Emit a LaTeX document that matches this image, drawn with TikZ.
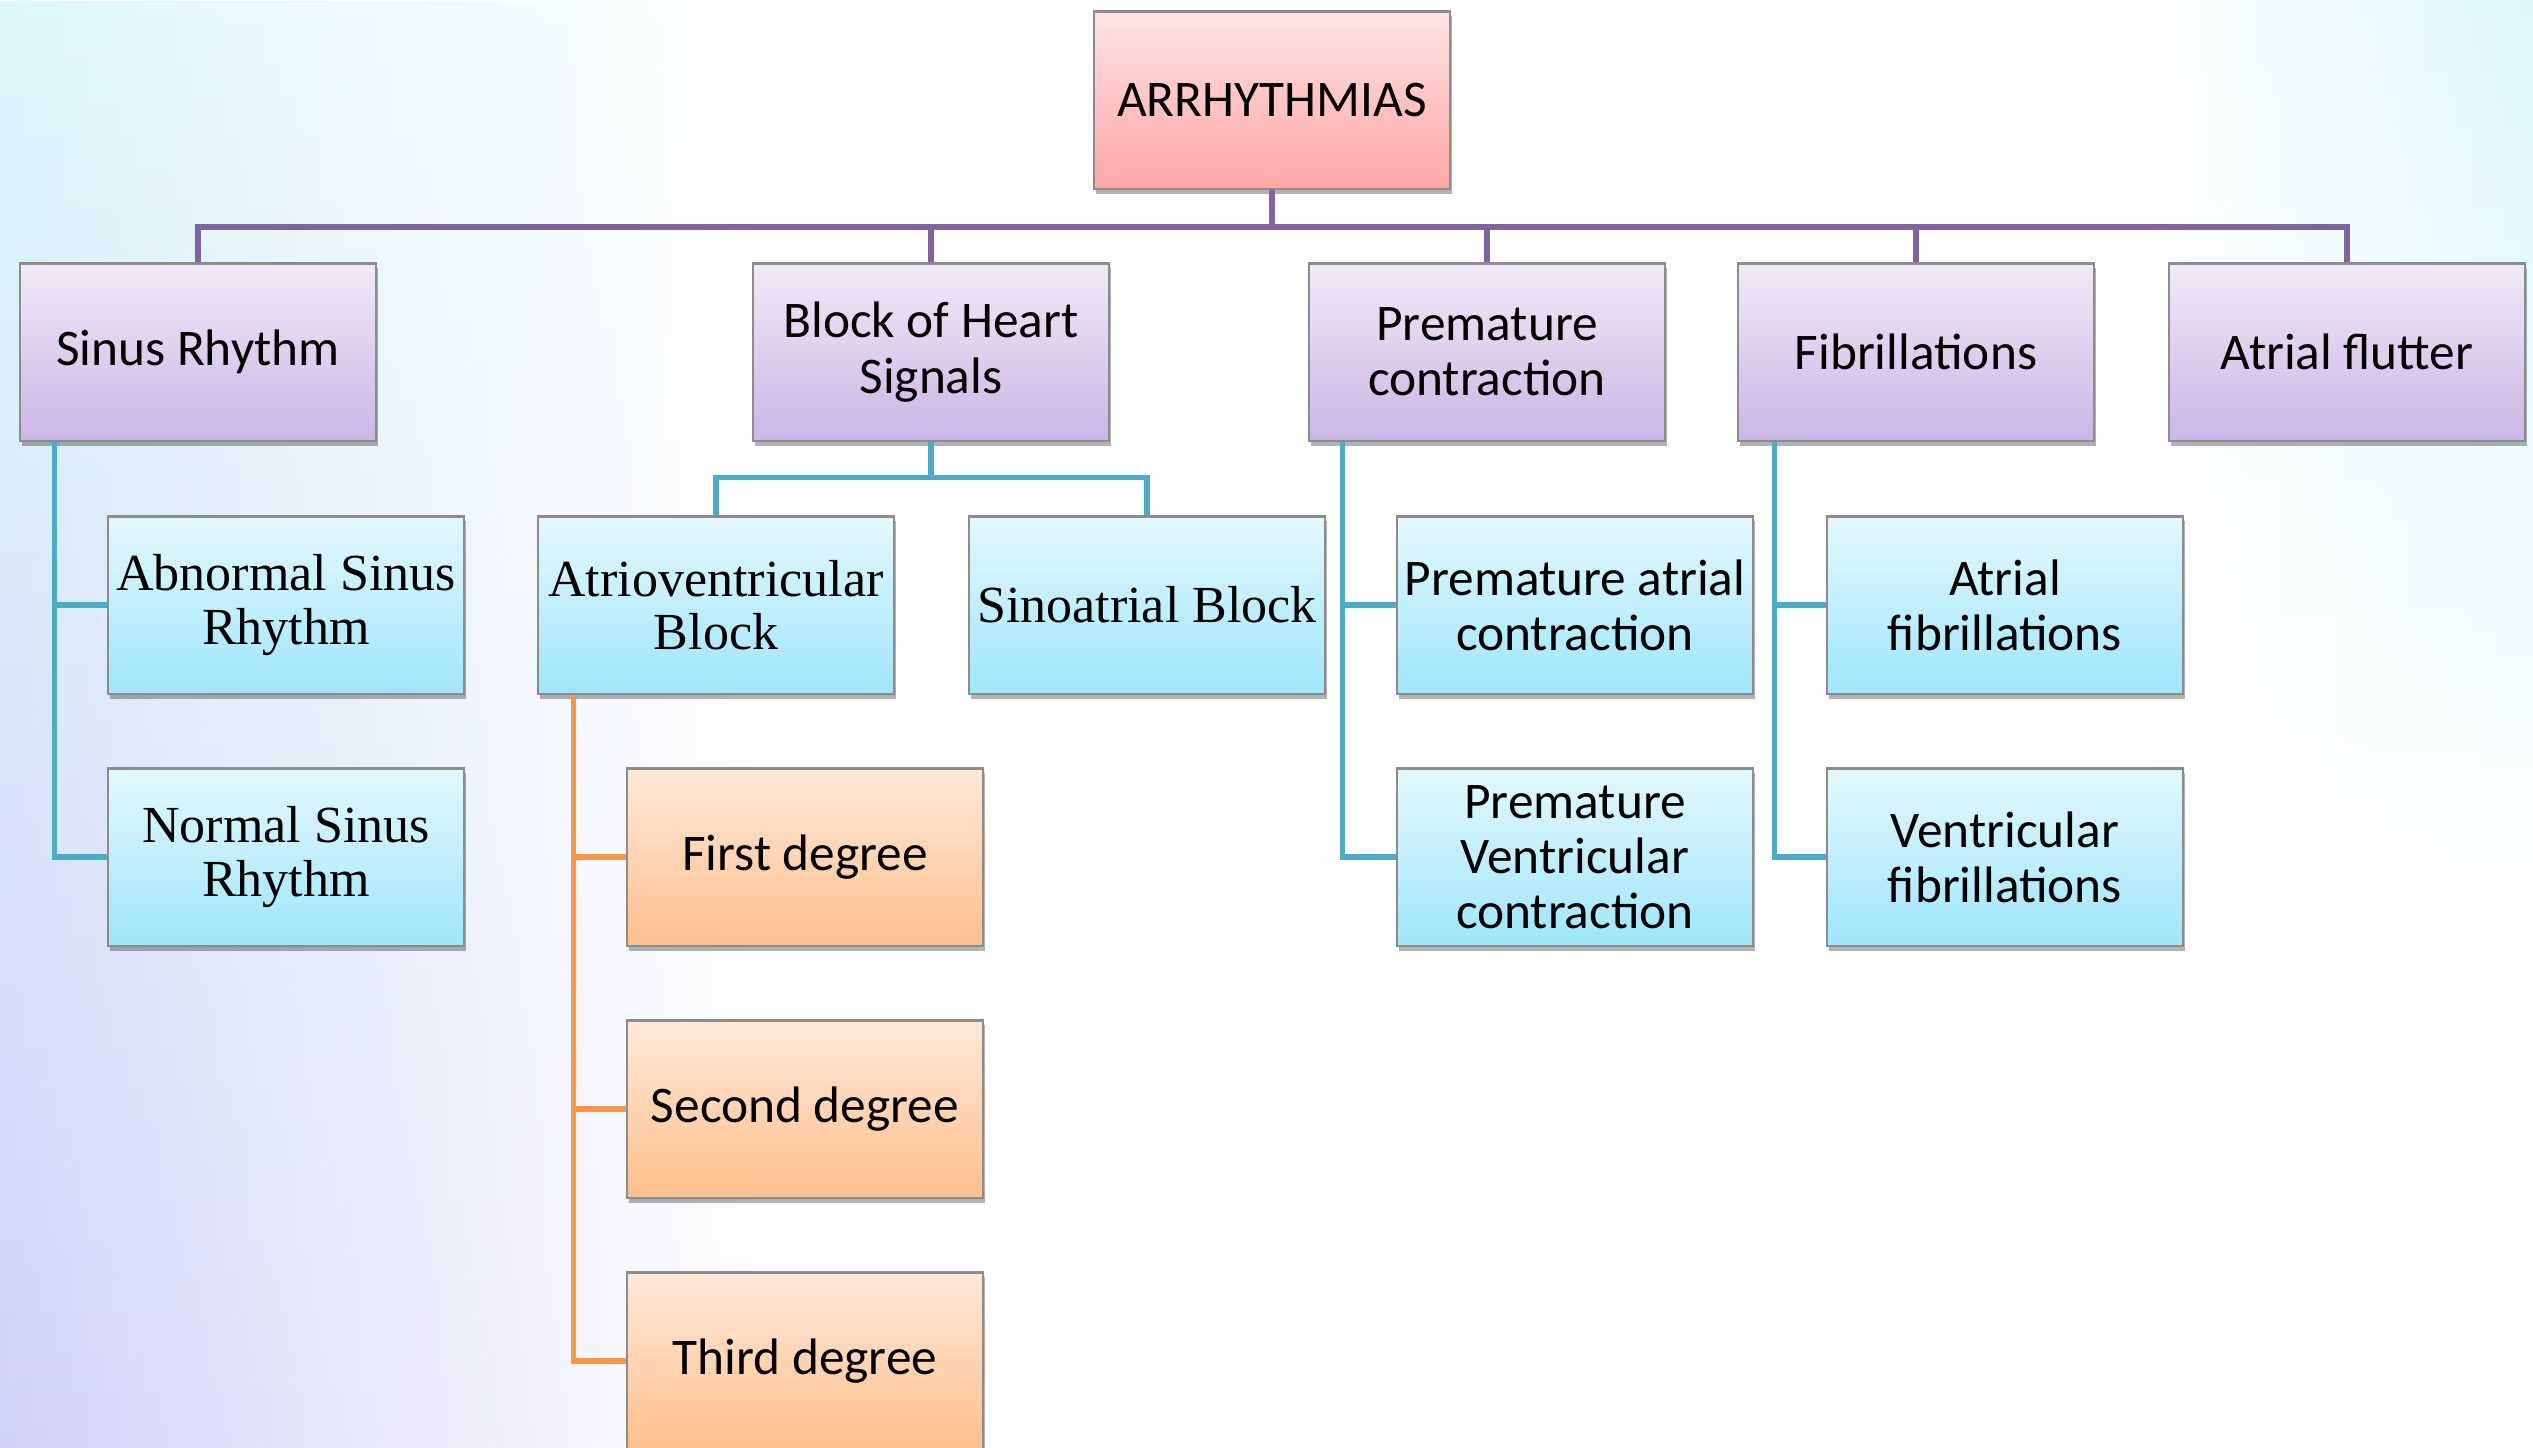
\documentclass[tikz,border=0pt]{standalone}
\usepackage{fontspec}
\setmainfont{Carlito}
\newfontfamily\cambriafont{Liberation Serif}
\usetikzlibrary{shadows,fadings,calc}

\definecolor{busPurple}{HTML}{8064A2}
\definecolor{busBlue}{HTML}{4BACC6}
\definecolor{busOrange}{HTML}{F79646}
\definecolor{rootTop}{HTML}{FFE3E3}
\definecolor{rootBot}{HTML}{FFA6A6}
\definecolor{catTop}{HTML}{F0EAF8}
\definecolor{catBot}{HTML}{CAB6E4}
\definecolor{subTop}{HTML}{E4F8FD}
\definecolor{subBot}{HTML}{9FE6FC}
\definecolor{degTop}{HTML}{FFE9DA}
\definecolor{degBot}{HTML}{FFBF8C}
\definecolor{bgCyan}{HTML}{DDF8FC}
\definecolor{bgLav}{HTML}{D2D2F8}

\begin{document}
\begin{tikzpicture}[x=0.01cm,y=-0.01cm,
   box/.style={draw=black!45,line width=0.6pt,minimum width=3.55cm,minimum height=1.77cm,
      align=center,inner sep=1pt,font=\fontsize{14.6}{15.7}\selectfont,
      drop shadow={shadow xshift=0.02cm,shadow yshift=-0.05cm,opacity=0.3,fill=black}},
   rootbox/.style={box,top color=rootTop,bottom color=rootBot},
   catbox/.style={box,top color=catTop,bottom color=catBot},
   subbox/.style={box,top color=subTop,bottom color=subBot},
   degbox/.style={box,top color=degTop,bottom color=degBot},
   serif/.style={font=\cambriafont\fontsize{14.8}{15.1}\selectfont},
   purplebus/.style={busPurple,line width=1.7pt},
   bluebus/.style={busBlue,line width=1.5pt},
   orangebus/.style={busOrange,line width=1.5pt}]

   % Background
   \clip (0,0) rectangle (2533,1447);
   \fill[white] (0,0) rectangle (2533,1447);
   \shade[top color=bgCyan,bottom color=bgLav,path fading=east] (0,0) rectangle (750,1447);
   \shade[top color=bgCyan,bottom color=white,path fading=west] (2150,0) rectangle (2533,950);

   % Root
   \node[rootbox] (root) at (1272,100) {ARRHYTHMIAS};

   % First level
   \node[catbox] (sinus) at (198,352) {Sinus Rhythm};
   \node[catbox] (block) at (931,352) {Block of Heart\\Signals};
   \node[catbox] (premature) at (1487,352) {Premature\\contraction};
   \node[catbox] (fibr) at (1916,352) {Fibrillations};
   \node[catbox] (flutter) at (2347,352) {Atrial flutter};

   % Second level
   \node[subbox,serif] (abnormal) at (286,605) {Abnormal Sinus\\Rhythm};
   \node[subbox,serif] (normal) at (286,857) {Normal Sinus\\Rhythm};
   \node[subbox,serif] (av) at (716,605) {Atrioventricular\\Block};
   \node[subbox,serif] (sa) at (1147,605) {Sinoatrial Block};
   \node[subbox] (pac) at (1575,605) {Premature atrial\\contraction};
   \node[subbox] (pvc) at (1575,857) {Premature\\Ventricular\\contraction};
   \node[subbox] (afib) at (2005,605) {Atrial\\fibrillations};
   \node[subbox] (vfib) at (2005,857) {Ventricular\\fibrillations};

   % Degrees of AV block
   \node[degbox] (first) at (805,857) {First degree};
   \node[degbox] (second) at (805,1109) {Second degree};
   \node[degbox] (third) at (805,1361) {Third degree};

   % Connectors
   \foreach \n in {sinus,block,premature,fibr,flutter}
      \draw[purplebus] (root.south) -- ++(0,37) -| (\n.north);
   \foreach \n in {abnormal,normal}
      \draw[bluebus] ([xshift=0.35cm]sinus.south west) |- (\n.west);
   \foreach \n in {av,sa}
      \draw[bluebus] (block.south) -- ++(0,36) -| (\n.north);
   \foreach \n in {pac,pvc}
      \draw[bluebus] ([xshift=0.34cm]premature.south west) |- (\n.west);
   \foreach \n in {afib,vfib}
      \draw[bluebus] ([xshift=0.37cm]fibr.south west) |- (\n.west);
   \foreach \n in {first,second,third}
      \draw[orangebus] ([xshift=0.36cm]av.south west) |- (\n.west);

\end{tikzpicture}
\end{document}
